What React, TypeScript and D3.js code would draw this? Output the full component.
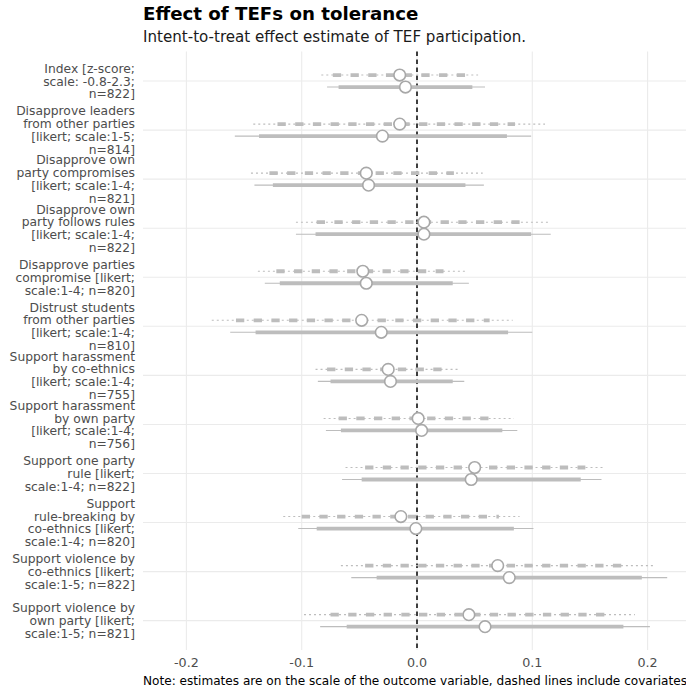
import React from "react";
import * as d3 from "d3";

const categories = [
  "index", "leaders", "ownCompromise", "ownRules", "partiesCompromise", "distrust",
  "harassCoEth", "harassOwn", "oneParty", "ruleBreaking", "violenceCoEth", "violenceOwn",
];

const labelLines = [
  ["Index [z-score;", "scale: -0.8-2.3;", "n=822]"],
  ["Disapprove leaders", "from other parties", "[likert; scale:1-5;", "n=814]"],
  ["Disapprove own", "party compromises", "[likert; scale:1-4;", "n=821]"],
  ["Disapprove own", "party follows rules", "[likert; scale:1-4;", "n=822]"],
  ["Disapprove parties", "compromise [likert;", "scale:1-4; n=820]"],
  ["Distrust students", "from other parties", "[likert; scale:1-4;", "n=810]"],
  ["Support harassment", "by co-ethnics", "[likert; scale:1-4;", "n=755]"],
  ["Support harassment", "by own party", "[likert; scale:1-4;", "n=756]"],
  ["Support one party", "rule [likert;", "scale:1-4; n=822]"],
  ["Support", "rule-breaking by", "co-ethnics [likert;", "scale:1-4; n=820]"],
  ["Support violence by", "co-ethnics [likert;", "scale:1-5; n=822]"],
  ["Support violence by", "own party [likert;", "scale:1-5; n=821]"],
];

// With covariates (dashed)
const covEst = [-0.015, -0.015, -0.044, 0.006, -0.047, -0.048, -0.025, 0.001, 0.050, -0.014, 0.070, 0.045];
const covLo90 = [-0.073, -0.121, -0.128, -0.087, -0.122, -0.157, -0.078, -0.068, -0.045, -0.100, -0.045, -0.075];
const covHi90 = [0.042, 0.085, 0.032, 0.089, 0.023, 0.063, 0.022, 0.063, 0.146, 0.071, 0.179, 0.164];
const covLo95 = [-0.083, -0.142, -0.144, -0.105, -0.138, -0.178, -0.088, -0.081, -0.062, -0.116, -0.066, -0.098];
const covHi95 = [0.053, 0.111, 0.057, 0.116, 0.043, 0.083, 0.037, 0.084, 0.163, 0.089, 0.206, 0.189];

// Without covariates (solid)
const rawEst = [-0.010, -0.030, -0.042, 0.006, -0.044, -0.031, -0.023, 0.004, 0.047, -0.001, 0.080, 0.059];
const rawLo90 = [-0.068, -0.137, -0.125, -0.088, -0.119, -0.140, -0.075, -0.066, -0.048, -0.087, -0.035, -0.061];
const rawHi90 = [0.048, 0.078, 0.042, 0.099, 0.031, 0.079, 0.031, 0.074, 0.142, 0.084, 0.195, 0.179];
const rawLo95 = [-0.078, -0.158, -0.141, -0.105, -0.132, -0.162, -0.086, -0.079, -0.065, -0.103, -0.057, -0.084];
const rawHi95 = [0.059, 0.099, 0.058, 0.116, 0.045, 0.100, 0.041, 0.087, 0.160, 0.101, 0.217, 0.202];

const xTicks = [-0.2, -0.1, 0.0, 0.1, 0.2];
const xTickLabels = ["-0.2", "-0.1", "0.0", "0.1", "0.2"];

const W = 686;
const H = 691;
const FONT = "'DejaVu Sans', Verdana, sans-serif";

export default function App() {
  const panelLeft = 143;
  const panelRight = 686;
  const panelTop = 51.6;
  const panelBottom = 650.1;
  const x = d3.scaleLinear().domain([-0.2, 0.2]).range([186.4, 647.6]);
  const y = d3.scalePoint<string>().domain(categories).range([panelTop, panelBottom]).padding(0.6);

  const lineColor = "#bdbdbd";
  const ptStroke = "#a8a8a8";
  const off = 6;

  return (
    <svg
      width={W}
      height={H}
      style={{ position: "absolute", left: 0, top: 0, background: "#fff" }}
      fontFamily={FONT}
    >
      {/* title */}
      <text x={143} y={20} fontSize={18.2} fontWeight="bold" fill="#000">
        Effect of TEFs on tolerance
      </text>
      <text x={143} y={42} fontSize={15.1} fill="#1a1a1a">
        Intent-to-treat effect estimate of TEF participation.
      </text>

      {/* grid */}
      {xTicks.map((t) => (
        <line key={"vg" + t} x1={x(t)} x2={x(t)} y1={panelTop} y2={panelBottom} stroke="#ebebeb" strokeWidth={1.1} />
      ))}
      {categories.map((c) => (
        <line key={"hg" + c} x1={panelLeft} x2={panelRight} y1={y(c)} y2={y(c)} stroke="#ebebeb" strokeWidth={1.1} />
      ))}

      {/* zero line */}
      <line x1={x(0)} x2={x(0)} y1={panelTop} y2={panelBottom} stroke="#000" strokeWidth={1.5} strokeDasharray="4.5,3.5" />

      {/* estimates */}
      {categories.map((c, i) => {
        const yc = y(c) as number;
        const yd = yc - off;
        const ys = yc + off;
        return (
          <g key={"est" + c}>
            <line x1={x(covLo95[i])} x2={x(covHi95[i])} y1={yd} y2={yd} stroke={lineColor} strokeWidth={1.1} strokeDasharray="2,3" />
            <line x1={x(covLo90[i])} x2={x(covHi90[i])} y1={yd} y2={yd} stroke={lineColor} strokeWidth={3.8} strokeDasharray="8.3,9.4" />
            <circle cx={x(covEst[i])} cy={yd} r={5.8} fill="#fff" stroke={ptStroke} strokeWidth={1.6} />
            <line x1={x(rawLo95[i])} x2={x(rawHi95[i])} y1={ys} y2={ys} stroke={lineColor} strokeWidth={1.1} />
            <line x1={x(rawLo90[i])} x2={x(rawHi90[i])} y1={ys} y2={ys} stroke={lineColor} strokeWidth={3.8} />
            <circle cx={x(rawEst[i])} cy={ys} r={5.8} fill="#fff" stroke={ptStroke} strokeWidth={1.6} />
          </g>
        );
      })}

      {/* y labels */}
      {categories.map((c, i) => {
        const lines = labelLines[i];
        const yc = y(c) as number;
        const lh = 12.8;
        const start = yc - ((lines.length - 1) * lh) / 2;
        return (
          <text key={"yl" + c} x={135} textAnchor="end" fontSize={12.3} fill="#4d4d4d">
            {lines.map((ln, j) => (
              <tspan key={j} x={135} y={start + j * lh + 4.5}>
                {ln}
              </tspan>
            ))}
          </text>
        );
      })}

      {/* x tick labels */}
      {xTicks.map((t, i) => (
        <text key={"xt" + t} x={x(t)} y={667} textAnchor="middle" fontSize={12.7} fill="#4d4d4d">
          {xTickLabels[i]}
        </text>
      ))}

      {/* caption */}
      <text x={143} y={685} fontSize={12.1} fill="#000">
        Note: estimates are on the scale of the outcome variable, dashed lines include covariates
      </text>
    </svg>
  );
}
